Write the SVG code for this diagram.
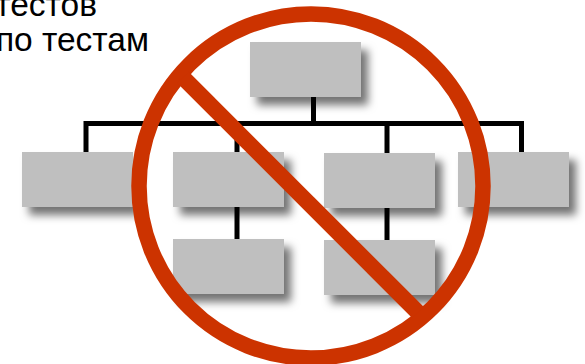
<svg xmlns="http://www.w3.org/2000/svg" width="585" height="364" viewBox="0 0 585 364">
<style>
.t{font-family:"Liberation Sans",Arial,sans-serif;font-size:33.500px;fill:#000;text-anchor:end}
.b{fill:#bfbfbf;filter:url(#s)}
.c{stroke:#000;stroke-width:5;fill:none;stroke-linejoin:miter}
.p{stroke:#cc3300;fill:none}
</style>
<defs><filter id="s" x="-20%" y="-30%" width="150%" height="170%"><feDropShadow dx="7" dy="8" stdDeviation="4" flood-color="#000" flood-opacity=".55"/></filter></defs>
<rect width="585" height="364" fill="#fff"/>
<text class="t" x="97" y="15.500">тестов</text>
<text class="t" x="149" y="50.500">по тестам</text>
<g id="connectors">
<path class="c" d="M86 152V123.500H521.500V152M237 123.500V152M387 123.500V153M313.500 97V123.500M237 207V239M387 208V240"/>
</g>
<g id="n1"><rect class="b" x="250" y="42" width="111" height="55"/></g>
<g id="n2"><rect class="b" x="22" y="152" width="111" height="55"/></g>
<g id="n3"><rect class="b" x="173" y="152" width="111" height="55"/></g>
<g id="n4"><rect class="b" x="324" y="153" width="111" height="55"/></g>
<g id="n5"><rect class="b" x="458" y="152" width="111" height="55"/></g>
<g id="n6"><rect class="b" x="173" y="239" width="111" height="55"/></g>
<g id="n7"><rect class="b" x="324" y="240" width="111" height="55"/></g>
<g id="prohibition">
<circle class="p" cx="311" cy="186" r="172" stroke-width="15.500"/>
<line class="p" x1="183" y1="77.500" x2="418" y2="312.500" stroke-width="16"/>
</g>
</svg>
